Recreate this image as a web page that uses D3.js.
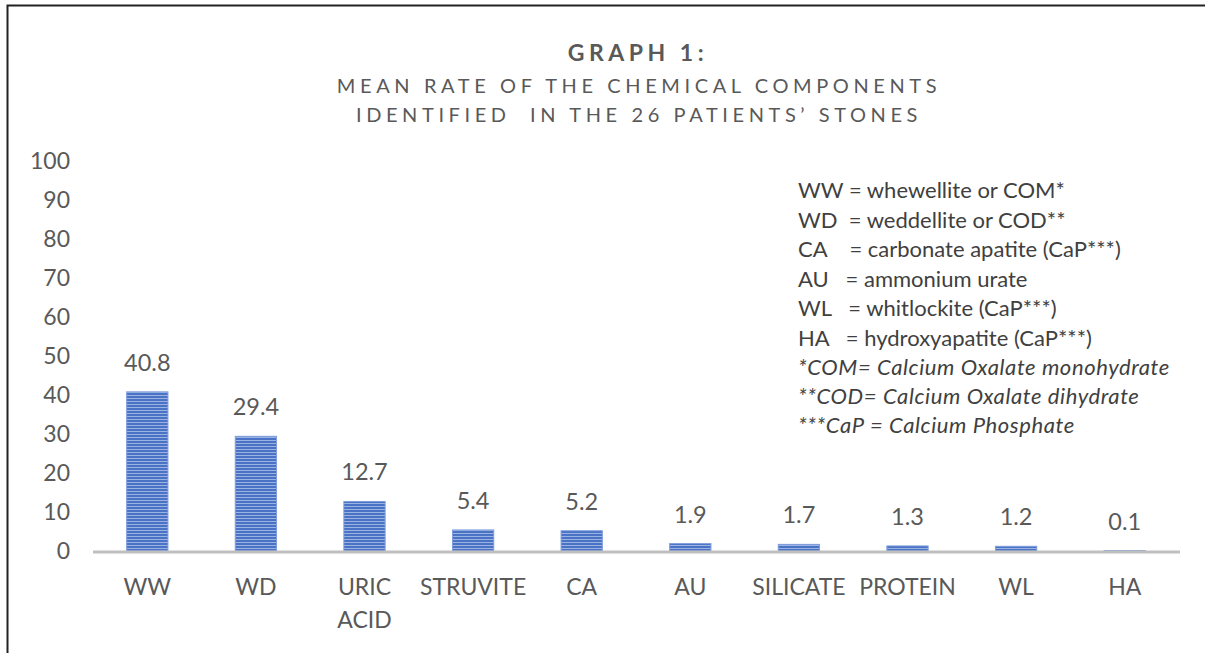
<!DOCTYPE html>
<html>
<head>
<meta charset="utf-8">
<script src="https://cdn.jsdelivr.net/npm/d3@7.9.0/dist/d3.min.js"></script>
<style>
  html, body { margin: 0; padding: 0; background: #fff; }
  svg { display: block; font-family: Lato, "Open Sans", sans-serif; }
</style>
</head>
<body>
<svg id="chart" width="1205" height="653"></svg>
<script>
// data
const categories = ['WW', 'WD', 'URIC ACID', 'STRUVITE', 'CA', 'AU', 'SILICATE', 'PROTEIN', 'WL', 'HA'];
const meanRates = [40.8, 29.4, 12.7, 5.4, 5.2, 1.9, 1.7, 1.3, 1.2, 0.1];
const yTicks = [0, 10, 20, 30, 40, 50, 60, 70, 80, 90, 100];
const titleLines = ['MEAN RATE OF THE CHEMICAL COMPONENTS', 'IDENTIFIED  IN THE 26 PATIENTS\u2019 STONES'];
const legendLines = [
  'WW = whewellite or COM*',
  'WD  = weddellite or COD**',
  'CA    = carbonate apatite (CaP***)',
  'AU   = ammonium urate',
  'WL   = whitlockite (CaP***)',
  'HA   = hydroxyapatite (CaP***)'
];
const footnotes = [
  '*COM= Calcium Oxalate monohydrate',
  '**COD= Calcium Oxalate dihydrate',
  '***CaP = Calcium Phosphate'
];

const svg = d3.select('#chart');
const textColor = '#595959';

// frame lines (top + left)
svg.append('path')
  .attr('d', 'M7.5,653 V5.5 H1205')
  .attr('fill', 'none')
  .attr('stroke', '#222')
  .attr('stroke-width', 2);

// striped bar pattern
const defs = svg.append('defs');
const pat = defs.append('pattern')
  .attr('id', 'stripes')
  .attr('patternUnits', 'userSpaceOnUse')
  .attr('width', 8).attr('height', 3);
pat.append('rect').attr('width', 8).attr('height', 3).attr('fill', '#4a73c6');
pat.append('rect').attr('y', 2).attr('width', 8).attr('height', 1).attr('fill', '#9bb3e2');

// scales
const x = d3.scaleBand()
  .domain(categories)
  .range([93, 1179])
  .paddingInner(0.62)
  .paddingOuter(0.31);

const y = d3.scaleLinear()
  .domain([0, 100])
  .range([551, 161]);

// title
svg.append('text')
  .attr('x', 638).attr('y', 61)
  .attr('text-anchor', 'middle')
  .attr('font-size', 23).attr('font-weight', 'bold')
  .attr('letter-spacing', 4.5)
  .attr('fill', textColor)
  .text('GRAPH 1:');

titleLines.forEach((t, i) => {
  svg.append('text')
    .attr('x', 639).attr('y', 93 + i * 29)
    .attr('text-anchor', 'middle')
    .attr('font-size', 20)
    .attr('letter-spacing', 4.6)
    .attr('fill', textColor)
    .style('white-space', 'pre')
    .text(t);
});

// y axis (labels only)
const yAxis = svg.append('g')
  .attr('transform', 'translate(70,0)')
  .call(d3.axisLeft(y).tickValues(yTicks).tickSize(0).tickPadding(0));
yAxis.select('.domain').remove();
yAxis.selectAll('text')
  .attr('font-size', 23)
  .attr('font-family', 'Lato, "Open Sans", sans-serif')
  .attr('fill', textColor);

// bars
svg.selectAll('rect.bar')
  .data(meanRates)
  .join('rect')
  .attr('class', 'bar')
  .attr('x', (d, i) => x(categories[i]))
  .attr('width', x.bandwidth())
  .attr('y', d => y(d))
  .attr('height', d => y(0) - y(d))
  .attr('fill', 'url(#stripes)')
  .attr('stroke', '#7e9ddb')
  .attr('stroke-width', 1);

// baseline
svg.append('line')
  .attr('x1', 93).attr('x2', 1180)
  .attr('y1', y(0) + 1).attr('y2', y(0) + 1)
  .attr('stroke', '#bfbfbf')
  .attr('stroke-width', 3);

// value labels
svg.selectAll('text.val')
  .data(meanRates)
  .join('text')
  .attr('class', 'val')
  .attr('x', (d, i) => x(categories[i]) + x.bandwidth() / 2)
  .attr('y', d => y(d) - 21)
  .attr('text-anchor', 'middle')
  .attr('font-size', 23.5)
  .attr('fill', textColor)
  .text(d => d.toFixed(1));

// x axis labels
const xAxis = svg.append('g')
  .attr('transform', `translate(0,${y(0)})`)
  .call(d3.axisBottom(x).tickSize(0).tickFormat(''));
xAxis.select('.domain').remove();
categories.forEach(c => {
  const words = c === 'URIC ACID' ? ['URIC', 'ACID'] : [c];
  words.forEach((w, j) => {
    svg.append('text')
      .attr('x', x(c) + x.bandwidth() / 2)
      .attr('y', 595 + j * 33)
      .attr('text-anchor', 'middle')
      .attr('font-size', 23)
      .attr('fill', textColor)
      .text(w);
  });
});

// legend box text
legendLines.forEach((t, i) => {
  svg.append('text')
    .attr('x', 798).attr('y', 198 + i * 29.5)
    .attr('font-size', 22)
    .attr('fill', '#404040')
    .style('white-space', 'pre')
    .text(t);
});
footnotes.forEach((t, i) => {
  svg.append('text')
    .attr('x', 798).attr('y', 375 + i * 29)
    .attr('font-size', 22)
    .attr('font-style', 'italic')
    .attr('letter-spacing', 0.6)
    .attr('fill', '#404040')
    .text(t);
});
</script>
</body>
</html>
